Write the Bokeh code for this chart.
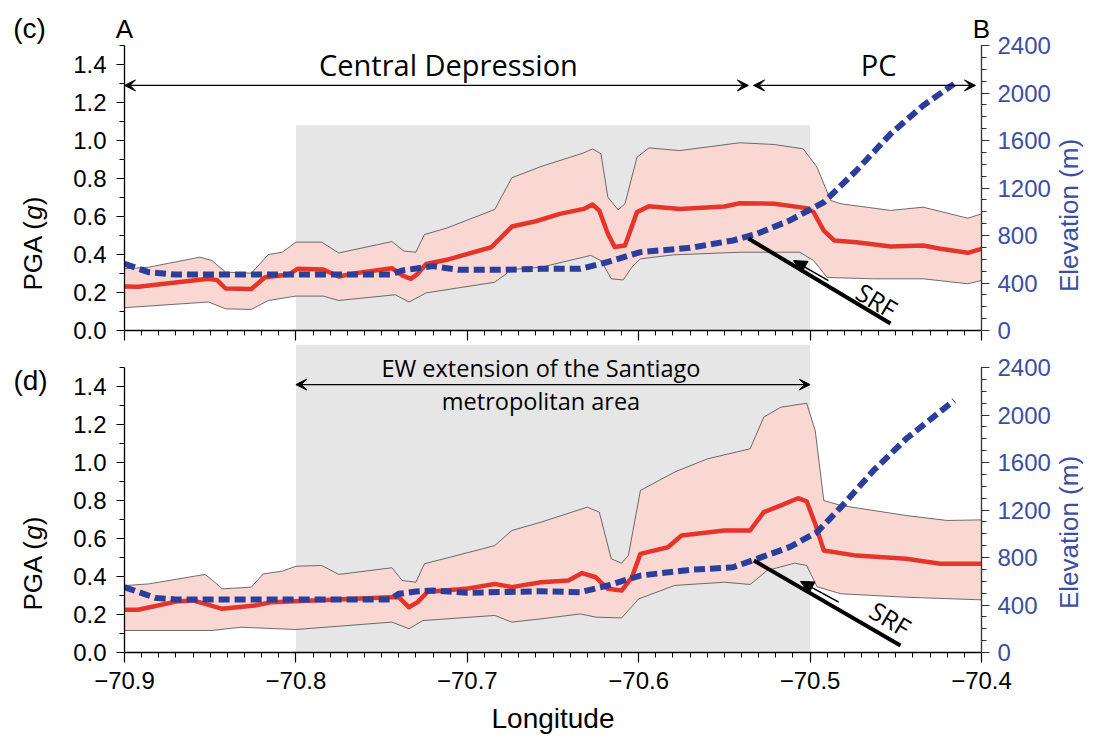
import math
from bokeh.plotting import figure
from bokeh.layouts import column, row
from bokeh.models import (Range1d, LinearAxis, FixedTicker, PrintfTickFormatter,
                          CustomJSTickFormatter, Label, Arrow, VeeHead, NormalHead,
                          BoxAnnotation)
from bokeh.core.properties import value
from bokeh.embed import file_html
from bokeh.resources import INLINE

# ---------------- data: panel (c) ----------------
c_med_lon = [-70.900, -70.892, -70.851, -70.846, -70.841, -70.826, -70.818, -70.804, -70.799,
             -70.784, -70.775, -70.765, -70.744, -70.738, -70.733, -70.729, -70.724, -70.712,
             -70.686, -70.674, -70.660, -70.646, -70.632, -70.627, -70.623, -70.618, -70.614,
             -70.608, -70.601, -70.594, -70.576, -70.550, -70.541, -70.521, -70.502, -70.498,
             -70.492, -70.486, -70.473, -70.453, -70.434, -70.424, -70.408, -70.400]
c_med = [0.232, 0.230, 0.272, 0.265, 0.221, 0.218, 0.280, 0.295, 0.325,
         0.321, 0.284, 0.302, 0.328, 0.290, 0.272, 0.298, 0.350, 0.372,
         0.438, 0.547, 0.575, 0.614, 0.640, 0.663, 0.632, 0.509, 0.439,
         0.447, 0.623, 0.654, 0.640, 0.653, 0.670, 0.667, 0.644, 0.623,
         0.526, 0.474, 0.465, 0.442, 0.447, 0.430, 0.409, 0.430]

c_up_lon = [-70.900, -70.886, -70.856, -70.849, -70.841, -70.826, -70.816, -70.808, -70.800,
            -70.785, -70.775, -70.744, -70.737, -70.730, -70.725, -70.712, -70.684, -70.674,
            -70.657, -70.632, -70.627, -70.622, -70.618, -70.612, -70.608, -70.601, -70.594,
            -70.576, -70.541, -70.521, -70.504, -70.496, -70.488, -70.482, -70.453, -70.434,
            -70.408, -70.400]
c_up = [0.325, 0.333, 0.386, 0.368, 0.307, 0.302, 0.400, 0.412, 0.465,
        0.465, 0.408, 0.468, 0.418, 0.412, 0.505, 0.539, 0.637, 0.804,
        0.863, 0.935, 0.956, 0.930, 0.702, 0.635, 0.667, 0.912, 0.961,
        0.947, 0.988, 0.979, 0.956, 0.860, 0.684, 0.667, 0.632, 0.649,
        0.591, 0.614]

c_lo_lon = [-70.900, -70.851, -70.841, -70.826, -70.816, -70.800, -70.784, -70.775, -70.742,
            -70.734, -70.724, -70.684, -70.674, -70.657, -70.628, -70.622, -70.616, -70.609,
            -70.604, -70.599, -70.580, -70.541, -70.506, -70.498, -70.490, -70.463, -70.434,
            -70.408, -70.400]
c_lo = [0.120, 0.150, 0.114, 0.111, 0.158, 0.181, 0.181, 0.158, 0.188,
        0.150, 0.198, 0.254, 0.321, 0.333, 0.395, 0.368, 0.272, 0.266,
        0.333, 0.377, 0.398, 0.412, 0.412, 0.368, 0.279, 0.272, 0.272,
        0.246, 0.263]

c_elev_lon = [-70.900, -70.886, -70.870, -70.800, -70.745, -70.738, -70.720, -70.705, -70.680,
              -70.657, -70.634, -70.618, -70.599, -70.570, -70.545, -70.531, -70.512, -70.492,
              -70.473, -70.453, -70.434, -70.416]
c_elev = [562, 491, 471, 471, 471, 505, 542, 511, 511,
          519, 519, 577, 660, 696, 758, 814, 926, 1080,
          1347, 1656, 1895, 2077]

# ---------------- data: panel (d) ----------------
d_med_lon = [-70.900, -70.892, -70.870, -70.860, -70.843, -70.824, -70.814, -70.779, -70.745,
             -70.740, -70.734, -70.729, -70.723, -70.701, -70.684, -70.674, -70.657, -70.641,
             -70.633, -70.625, -70.618, -70.610, -70.604, -70.599, -70.583, -70.575, -70.550,
             -70.535, -70.527, -70.517, -70.507, -70.502, -70.497, -70.492, -70.473, -70.444,
             -70.424, -70.400]
d_med = [0.225, 0.225, 0.268, 0.274, 0.230, 0.247, 0.265, 0.277, 0.291,
         0.291, 0.238, 0.265, 0.320, 0.335, 0.361, 0.344, 0.370, 0.379,
         0.418, 0.396, 0.335, 0.326, 0.396, 0.519, 0.554, 0.616, 0.642,
         0.642, 0.739, 0.774, 0.812, 0.796, 0.677, 0.537, 0.510, 0.493,
         0.467, 0.467]

d_up_lon = [-70.900, -70.886, -70.853, -70.847, -70.843, -70.826, -70.819, -70.808, -70.800,
            -70.785, -70.775, -70.744, -70.738, -70.730, -70.725, -70.691, -70.684, -70.674,
            -70.657, -70.630, -70.623, -70.616, -70.610, -70.606, -70.599, -70.579, -70.560,
            -70.535, -70.527, -70.517, -70.502, -70.497, -70.492, -70.482, -70.444, -70.420,
            -70.400]
d_up = [0.352, 0.361, 0.411, 0.368, 0.335, 0.344, 0.414, 0.428, 0.454,
        0.458, 0.411, 0.446, 0.379, 0.370, 0.467, 0.546, 0.563, 0.642,
        0.686, 0.765, 0.739, 0.493, 0.470, 0.511, 0.853, 0.950, 1.019,
        1.072, 1.239, 1.291, 1.312, 1.168, 0.800, 0.774, 0.721, 0.695,
        0.698]

d_lo_lon = [-70.900, -70.849, -70.832, -70.800, -70.744, -70.734, -70.726, -70.684, -70.674,
            -70.657, -70.634, -70.625, -70.610, -70.600, -70.579, -70.550, -70.535, -70.525,
            -70.509, -70.502, -70.496, -70.482, -70.444, -70.400]
d_lo = [0.116, 0.116, 0.133, 0.121, 0.160, 0.125, 0.168, 0.195, 0.160,
        0.177, 0.203, 0.186, 0.182, 0.282, 0.353, 0.370, 0.358, 0.432,
        0.470, 0.458, 0.346, 0.309, 0.291, 0.277]

d_elev_lon = [-70.900, -70.882, -70.870, -70.800, -70.745, -70.740, -70.730, -70.720, -70.700,
              -70.657, -70.634, -70.618, -70.599, -70.570, -70.545, -70.531, -70.512, -70.496,
              -70.482, -70.463, -70.444, -70.416]
d_elev = [550, 460, 446, 446, 446, 494, 513, 522, 503,
          516, 508, 564, 648, 696, 718, 789, 887, 1013,
          1224, 1533, 1799, 2122]

x_ticks = [-70.9, -70.8, -70.7, -70.6, -70.5, -70.4]
pga_ticks = [0.0, 0.2, 0.4, 0.6, 0.8, 1.0, 1.2, 1.4]
elev_ticks = [0, 400, 800, 1200, 1600, 2000, 2400]
profile_ends = [-70.9, -70.4]          # A and B

# ---------------- styling ----------------
RED = "#e5352b"
BLUE = "#2c3e9c"
BLUE_TXT = "#3b4ea3"
PINK = "#f9d8d4"
GRAY = "#e6e6e6"
TICK_FONT = "Liberation Sans"
ANN_FONT = "Open Sans"
TICK_SIZE = "24px"
LAB_SIZE = "26px"

LEFT_W = 60      # side strip holding panel letters and the PGA title
RIGHT_W = 36     # side strip holding the elevation title
TOTAL_H = 722

minus_fmt = CustomJSTickFormatter(
    code="return (tick < -1e-9 ? '\\u2212' : '') + Math.abs(tick).toFixed(1);")
blank_fmt = CustomJSTickFormatter(code="return '';")


def make_panel(frame_h, ytop, med_lon, med, up_lon, up, lo_lon, lo, el_lon, el,
               show_xlabels, border_top, border_bottom):
    p = figure(frame_width=857, frame_height=frame_h, output_backend="svg",
               toolbar_location=None, x_range=Range1d(-70.9, -70.4),
               y_range=Range1d(0, ytop), min_border_left=124 - LEFT_W, min_border_right=72,
               min_border_top=border_top, min_border_bottom=border_bottom,
               background_fill_color="white", border_fill_color="white")
    p.outline_line_color = None
    p.grid.visible = False
    p.extra_y_ranges = {"elev": Range1d(0, 2400 * ytop / 1.5)}

    # x axis
    xa = p.xaxis[0]
    xa.ticker = FixedTicker(ticks=x_ticks,
                            minor_ticks=[round(-70.9 + 0.01 * i, 2) for i in range(51)])
    xa.major_tick_in = 0
    xa.major_tick_out = 10
    xa.minor_tick_in = 0
    xa.minor_tick_out = 5
    xa.axis_line_width = 1.3
    xa.major_tick_line_width = 1.2
    xa.major_label_text_font = TICK_FONT
    xa.major_label_text_color = "black"
    xa.major_label_text_font_size = TICK_SIZE
    if show_xlabels:
        xa.formatter = minus_fmt
        xa.major_label_standoff = 9
        xa.axis_label = "Longitude"
        xa.axis_label_text_font = TICK_FONT
        xa.axis_label_text_font_size = "28px"
        xa.axis_label_text_font_style = "normal"
        xa.axis_label_text_color = "black"
        xa.axis_label_standoff = 11
    else:
        xa.formatter = blank_fmt
        xa.major_label_standoff = 0

    # left axis
    ya = p.yaxis[0]
    ya.bounds = (0, 1.5)
    ya.ticker = FixedTicker(ticks=pga_ticks, minor_ticks=[round(0.1 * i, 1) for i in range(16)])
    ya.formatter = PrintfTickFormatter(format="%.1f")
    ya.major_tick_in = 0
    ya.major_tick_out = 8
    ya.minor_tick_in = 0
    ya.minor_tick_out = 5
    ya.axis_line_width = 1.3
    ya.major_label_text_font = TICK_FONT
    ya.major_label_text_font_size = TICK_SIZE
    ya.major_label_text_color = "black"
    ya.major_label_standoff = 10

    # right axis (elevation)
    ra = LinearAxis(y_range_name="elev", bounds=(0, 2400),
                    ticker=FixedTicker(ticks=elev_ticks, minor_ticks=list(range(0, 2500, 100))))
    ra.major_tick_in = 0
    ra.major_tick_out = 8
    ra.minor_tick_in = 0
    ra.minor_tick_out = 5
    ra.axis_line_width = 1.3
    ra.axis_line_color = "#333333"
    ra.major_tick_line_color = "#333333"
    ra.minor_tick_line_color = "#333333"
    ra.major_label_text_font = TICK_FONT
    ra.major_label_text_font_size = TICK_SIZE
    ra.major_label_text_color = BLUE_TXT
    ra.major_label_standoff = 8
    p.add_layout(ra, "right")

    # data
    p.patch(up_lon + lo_lon[::-1], up + lo[::-1], fill_color=PINK, fill_alpha=1.0,
            line_color=None)
    p.line(up_lon, up, line_color="#4a4a4a", line_width=0.8)
    p.line(lo_lon, lo, line_color="#4a4a4a", line_width=0.8)
    p.line(med_lon, med, line_color=RED, line_width=4.5, line_join="round")
    p.line(el_lon, el, y_range_name="elev", line_color=BLUE, line_width=6,
           line_dash="11 5")
    return p


p1 = make_panel(285, 1.5, c_med_lon, c_med, c_up_lon, c_up, c_lo_lon, c_lo,
                c_elev_lon, c_elev, False, 45, 14)
p2 = make_panel(308, 1.6211, d_med_lon, d_med, d_up_lon, d_up, d_lo_lon, d_lo,
                d_elev_lon, d_elev, True, 0, 70)

# A / B profile ends as an axis above panel (c)
ab = LinearAxis(ticker=FixedTicker(ticks=profile_ends),
                formatter=CustomJSTickFormatter(code="return tick < -70.65 ? 'A' : 'B';"))
ab.axis_line_color = None
ab.major_tick_line_color = None
ab.minor_tick_line_color = None
ab.major_tick_in = 0
ab.major_tick_out = 0
ab.minor_tick_in = 0
ab.minor_tick_out = 0
ab.major_label_text_font = TICK_FONT
ab.major_label_text_font_size = "26px"
ab.major_label_text_color = "black"
ab.major_label_standoff = 2
p1.add_layout(ab, "above")

# shaded Santiago band
p1.add_layout(BoxAnnotation(left=-70.8, right=-70.5, bottom=0, top=1.08, fill_color=GRAY,
                            fill_alpha=1, line_color=None, level="underlay"))
p2.add_layout(BoxAnnotation(left=-70.8, right=-70.5, fill_color=GRAY,
                            fill_alpha=1, line_color=None, level="underlay"))


def lab(p, x, y, text, size="27px", font=ANN_FONT, color="black", angle=0,
        align="center", baseline="middle"):
    p.add_layout(Label(x=x, y=y, text=text, text_font=font, text_font_size=size,
                       text_color=color, angle=angle, text_align=align,
                       text_baseline=baseline))


def vee():
    return VeeHead(size=11, fill_color="black", line_color="black", line_width=1)


# ----- panel (c) annotations -----
p1.add_layout(Arrow(x_start=-70.9, y_start=1.29, x_end=-70.536, y_end=1.29,
                    start=vee(), end=vee(), line_width=1.3))
p1.add_layout(Arrow(x_start=-70.533, y_start=1.29, x_end=-70.4035, y_end=1.29,
                    start=vee(), end=vee(), line_width=1.3))
lab(p1, -70.711, 1.40, "Central Depression", size="29px")
lab(p1, -70.460, 1.40, "PC", size="29px")
p1.add_layout(Arrow(x_start=-70.536, y_start=0.484, x_end=-70.4531, y_end=0.037, end=None,
                    line_width=4, line_color="black"))
p1.add_layout(Arrow(x_start=-70.4893, y_start=0.263, x_end=-70.5097, y_end=0.368,
                    end=NormalHead(size=13, fill_color="black", line_color="black"),
                    line_width=1.5))
lab(p1, -70.461, 0.160, "SRF", size="25px", angle=-0.54)

# ----- panel (d) annotations -----
p2.add_layout(Arrow(x_start=-70.8, y_start=1.41, x_end=-70.5, y_end=1.41,
                    start=vee(), end=vee(), line_width=1.3))
lab(p2, -70.657, 1.495, "EW extension of the Santiago", size="23.5px")
lab(p2, -70.657, 1.326, "metropolitan area", size="23.5px")
p2.add_layout(Arrow(x_start=-70.5328, y_start=0.484, x_end=-70.4473, y_end=0.037, end=None,
                    line_width=4, line_color="black"))
p2.add_layout(Arrow(x_start=-70.4833, y_start=0.265, x_end=-70.5056, y_end=0.374,
                    end=NormalHead(size=13, fill_color="black", line_color="black"),
                    line_width=1.5))
lab(p2, -70.4531, 0.179, "SRF", size="25px", angle=-0.54)


# ----- side strips (pixel coordinates, y measured from the bottom of the page) -----
def strip(width):
    s = figure(width=width, height=TOTAL_H, output_backend="svg", toolbar_location=None,
               x_range=Range1d(0, width), y_range=Range1d(0, TOTAL_H),
               x_axis_type=None, y_axis_type=None, min_border=0,
               background_fill_color="white", border_fill_color="white")
    s.outline_line_color = None
    s.grid.visible = False
    return s


def stext(s, x, y, t, size, color="black", angle=0.0, align="center", style="normal"):
    s.text(x=[x], y=[y], text=[t], angle=angle, text_align=value(align),
           text_baseline=value("middle"), text_font=value(TICK_FONT),
           text_font_size=value(size), text_font_style=value(style),
           text_color=value(color))


left = strip(LEFT_W)
stext(left, 29, TOTAL_H - 28, "(c)", "28px")
stext(left, 30, TOTAL_H - 380, "(d)", "28px")
for bottom_px in (290, 610):
    y0 = TOTAL_H - bottom_px
    stext(left, 32, y0, "PGA (", LAB_SIZE, angle=math.pi / 2, align="left")
    stext(left, 32, y0 + 70.8, "g", LAB_SIZE, angle=math.pi / 2, align="left", style="italic")
    stext(left, 32, y0 + 85.3, ")", LAB_SIZE, angle=math.pi / 2, align="left")

right = strip(RIGHT_W)
stext(right, 15, TOTAL_H - 215, "Elevation (m)", LAB_SIZE, color=BLUE_TXT, angle=math.pi / 2)
stext(right, 15, TOTAL_H - 532, "Elevation (m)", LAB_SIZE, color=BLUE_TXT, angle=math.pi / 2)

layout = row(left, column(p1, p2, spacing=0), right, spacing=0)
open("out.html", "w").write(file_html(layout, INLINE))
